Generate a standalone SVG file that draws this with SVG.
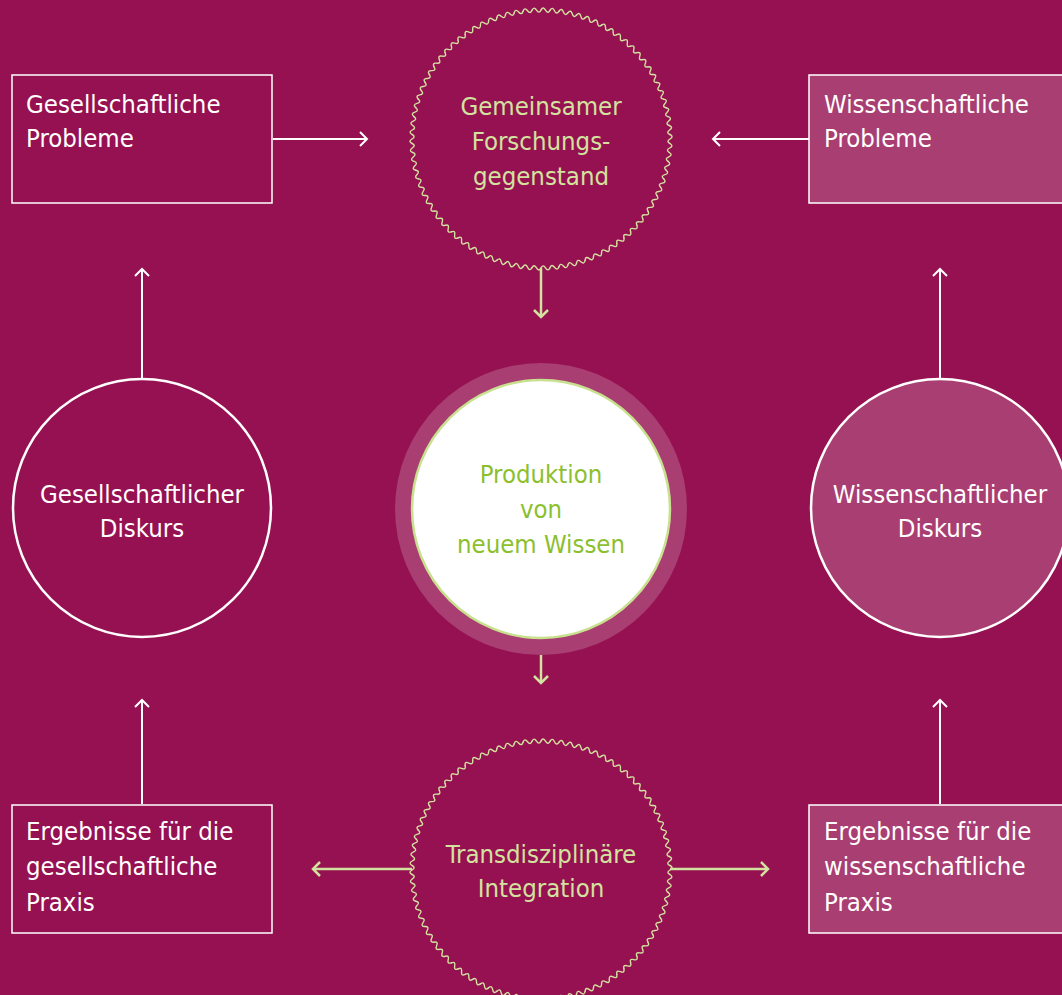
<svg xmlns="http://www.w3.org/2000/svg" xmlns:xlink="http://www.w3.org/1999/xlink" width="1062" height="995" viewBox="0 0 1062 995">
  <style>
    text { font-family: "Liberation Sans Narrow", "DejaVu Sans Condensed", "Roboto Condensed", "Liberation Sans", sans-serif; font-size: 25.5px; }
    .w { fill: #ffffff; }
    .lg { fill: #d3e29e; }
    .g { fill: #8cbf2e; }
    .mid { text-anchor: middle; }
    .box { fill: none; stroke: #ffffff; stroke-width: 1.5; }
    .box.soft { fill: #a83e71; }
    .ring { fill: none; stroke: #ffffff; stroke-width: 2.5; }
    .ring.soft { fill: #a83e71; }
    .wave { fill: none; stroke: #d3e29e; stroke-width: 1.4; stroke-linecap: round; }
    .cw { fill: none; stroke: #ffffff; stroke-width: 2; }
    .cg { fill: none; stroke: #d3e29e; stroke-width: 2.5; }
  </style>
  <defs>
    <!-- one 4-degree period of the wavy outline, r = 129 around the origin -->
    <path id="waveSeg" class="wave" d="M0,-129 C1.5,-131.9 3.0,-131.6 4.502,-128.921 C6.0,-126.2 7.5,-125.9 8.999,-128.686"/>
    <g id="wave40">
      <use xlink:href="#waveSeg"/>
      <use xlink:href="#waveSeg" transform="rotate(4)"/>
      <use xlink:href="#waveSeg" transform="rotate(8)"/>
      <use xlink:href="#waveSeg" transform="rotate(12)"/>
      <use xlink:href="#waveSeg" transform="rotate(16)"/>
      <use xlink:href="#waveSeg" transform="rotate(20)"/>
      <use xlink:href="#waveSeg" transform="rotate(24)"/>
      <use xlink:href="#waveSeg" transform="rotate(28)"/>
      <use xlink:href="#waveSeg" transform="rotate(32)"/>
      <use xlink:href="#waveSeg" transform="rotate(36)"/>
    </g>
    <g id="waveCircle">
      <use xlink:href="#wave40"/>
      <use xlink:href="#wave40" transform="rotate(40)"/>
      <use xlink:href="#wave40" transform="rotate(80)"/>
      <use xlink:href="#wave40" transform="rotate(120)"/>
      <use xlink:href="#wave40" transform="rotate(160)"/>
      <use xlink:href="#wave40" transform="rotate(200)"/>
      <use xlink:href="#wave40" transform="rotate(240)"/>
      <use xlink:href="#wave40" transform="rotate(280)"/>
      <use xlink:href="#wave40" transform="rotate(320)"/>
    </g>
    <marker id="headW" markerUnits="userSpaceOnUse" markerWidth="20" markerHeight="20" viewBox="-10 -10 20 20" refX="0" refY="0" orient="auto">
      <path d="M-7,-7 L0,0 L-7,7" fill="none" stroke="#ffffff" stroke-width="2"/>
    </marker>
    <marker id="headG" markerUnits="userSpaceOnUse" markerWidth="20" markerHeight="20" viewBox="-10 -10 20 20" refX="0" refY="0" orient="auto">
      <path d="M-7,-7 L0,0 L-7,7" fill="none" stroke="#d3e29e" stroke-width="2.5"/>
    </marker>
  </defs>

  <rect x="0" y="0" width="1062" height="995" fill="#951152"/>

  <g id="connectors">
    <line class="cw" x1="273" y1="139" x2="367" y2="139" marker-end="url(#headW)"/>
    <line class="cw" x1="809" y1="139" x2="713" y2="139" marker-end="url(#headW)"/>
    <line class="cg" x1="541" y1="268" x2="541" y2="317" marker-end="url(#headG)"/>
    <line class="cg" x1="541" y1="655" x2="541" y2="683" marker-end="url(#headG)"/>
    <line class="cw" x1="142" y1="379" x2="142" y2="269" marker-end="url(#headW)"/>
    <line class="cw" x1="940" y1="379" x2="940" y2="269" marker-end="url(#headW)"/>
    <line class="cw" x1="142" y1="804" x2="142" y2="700" marker-end="url(#headW)"/>
    <line class="cw" x1="940" y1="804" x2="940" y2="700" marker-end="url(#headW)"/>
    <line class="cg" x1="412" y1="869" x2="313" y2="869" marker-end="url(#headG)"/>
    <line class="cg" x1="670" y1="869" x2="768" y2="869" marker-end="url(#headG)"/>
  </g>

  <g id="gesellschaftliche-probleme">
    <rect class="box" x="12" y="75" width="260" height="128"/>
    <text class="w" x="26" y="113">Gesellschaftliche</text>
    <text class="w" x="26" y="147">Probleme</text>
  </g>

  <g id="wissenschaftliche-probleme">
    <rect class="box soft" x="809" y="75" width="262" height="128"/>
    <text class="w" x="824" y="113">Wissenschaftliche</text>
    <text class="w" x="824" y="147">Probleme</text>
  </g>

  <g id="forschungsgegenstand">
    <use xlink:href="#waveCircle" transform="translate(541,139)"/>
    <text class="lg mid" x="541" y="115">Gemeinsamer</text>
    <text class="lg mid" x="541" y="150">Forschungs-</text>
    <text class="lg mid" x="541" y="185">gegenstand</text>
  </g>

  <g id="gesellschaftlicher-diskurs">
    <circle class="ring" cx="142" cy="508" r="129"/>
    <text class="w mid" x="142" y="503">Gesellschaftlicher</text>
    <text class="w mid" x="142" y="537">Diskurs</text>
  </g>

  <g id="neues-wissen">
    <circle cx="541" cy="509" r="146" fill="#a83e71"/>
    <circle cx="541" cy="509" r="129" fill="#ffffff" stroke="#c9e08f" stroke-width="2.5"/>
    <text class="g mid" x="541" y="483">Produktion</text>
    <text class="g mid" x="541" y="518">von</text>
    <text class="g mid" x="541" y="553">neuem Wissen</text>
  </g>

  <g id="wissenschaftlicher-diskurs">
    <circle class="ring soft" cx="940" cy="508" r="129"/>
    <text class="w mid" x="940" y="503">Wissenschaftlicher</text>
    <text class="w mid" x="940" y="537">Diskurs</text>
  </g>

  <g id="ergebnisse-gesellschaft">
    <rect class="box" x="12" y="805" width="260" height="128"/>
    <text class="w" x="26" y="840">Ergebnisse für die</text>
    <text class="w" x="26" y="875">gesellschaftliche</text>
    <text class="w" x="26" y="911">Praxis</text>
  </g>

  <g id="transdisziplinaere-integration">
    <use xlink:href="#waveCircle" transform="translate(541,870)"/>
    <text class="lg mid" x="541" y="863">Transdisziplinäre</text>
    <text class="lg mid" x="541" y="897">Integration</text>
  </g>

  <g id="ergebnisse-wissenschaft">
    <rect class="box soft" x="809" y="805" width="262" height="128"/>
    <text class="w" x="824" y="840">Ergebnisse für die</text>
    <text class="w" x="824" y="875">wissenschaftliche</text>
    <text class="w" x="824" y="911">Praxis</text>
  </g>
</svg>
